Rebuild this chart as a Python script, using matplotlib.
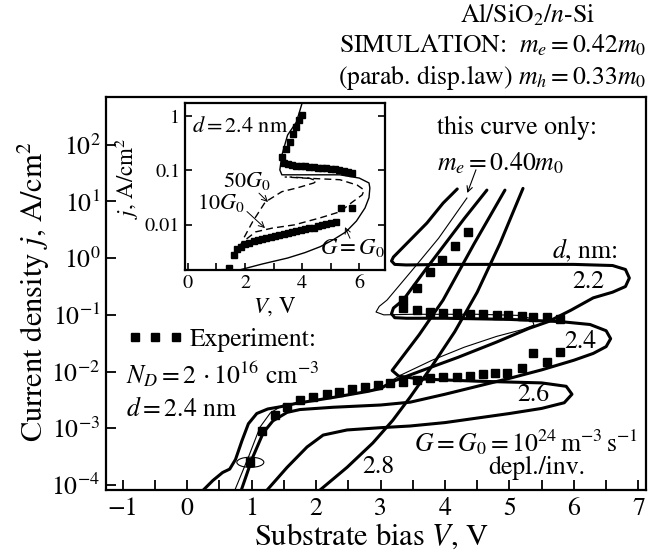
import numpy as np
import matplotlib
matplotlib.use('Agg')
import matplotlib.pyplot as plt
from matplotlib.lines import Line2D
from matplotlib.patches import Ellipse
from matplotlib.ticker import MultipleLocator, FixedLocator, NullLocator

plt.rcParams['font.family'] = 'STIXGeneral'
plt.rcParams['mathtext.fontset'] = 'stix'
plt.rcParams['axes.linewidth'] = 1.6

FS = 18.5     # text inside the main panel
FS_LAB = 22   # axis titles
FS_IN = 16.5  # inset text

# ---- main panel: simulated j(V), values are log10(j / A cm^-2) ----
v22 = [0.25, 0.40, 0.55, 0.66, 0.75, 0.85, 0.95, 1.08, 1.25, 1.45, 1.70, 2.30, 2.80, 3.00,
       3.20, 3.60, 4.20, 4.80, 5.30, 5.60, 5.95, 6.30, 6.60, 6.80, 6.86, 6.80, 6.60, 6.00,
       5.00, 4.00, 3.40, 3.22, 3.17, 3.20, 3.46, 3.72, 3.97, 4.19]
l22 = [-4.09, -3.92, -3.78, -3.72, -3.55, -3.22, -2.92, -2.74, -2.66, -2.62, -2.56, -2.45, -2.35, -2.30,
       -2.17, -2.00, -1.75, -1.48, -1.24, -1.12, -0.92, -0.70, -0.60, -0.50, -0.35, -0.20, -0.13, -0.11,
       -0.11, -0.11, -0.12, -0.11, -0.05, 0.02, 0.32, 0.62, 0.97, 1.22]

v24 = [0.84, 1.01, 1.18, 1.33, 1.55, 1.75, 2.26, 3.00, 3.46, 4.00, 4.50, 5.00, 5.50, 6.00, 6.30,
       6.50, 6.57, 6.50, 6.25, 5.80, 5.00, 4.00, 3.40, 3.22, 3.17, 3.20, 3.35, 3.70, 4.00, 4.30, 4.65]
l24 = [-4.09, -3.53, -3.08, -2.87, -2.72, -2.67, -2.63, -2.59, -2.54, -2.40, -2.26, -2.12, -1.97, -1.80, -1.68,
       -1.56, -1.42, -1.28, -1.17, -1.12, -1.08, -1.06, -1.06, -1.05, -0.98, -0.88, -0.74, -0.20, 0.25, 0.70, 1.20]

# d = 2.4 nm with m_e = 0.40 m_0 (thin curve)
v40 = [0.74, 0.95, 1.13, 1.29, 1.49, 2.00, 2.80, 3.05, 3.30, 3.80, 4.30, 4.80, 5.20, 5.38, 5.35,
       5.15, 4.50, 3.50, 3.05, 2.93, 2.98, 3.10, 3.50, 3.90, 4.34]
l40 = [-4.09, -3.51, -2.98, -2.73, -2.59, -2.50, -2.35, -2.25, -2.07, -1.80, -1.57, -1.38, -1.26, -1.18, -1.07,
       -1.01, -0.99, -0.99, -1.00, -0.95, -0.85, -0.74, -0.20, 0.35, 1.06]

v26 = [1.24, 1.55, 1.86, 2.11, 2.48, 3.00, 3.46, 4.00, 4.50, 5.00, 5.50, 5.85, 5.97, 5.88, 5.50,
       4.50, 3.60, 3.28, 3.18, 3.30, 3.60, 3.97, 4.45, 4.93]
l26 = [-4.09, -3.69, -3.33, -3.12, -3.03, -2.99, -2.96, -2.90, -2.82, -2.74, -2.65, -2.55, -2.40, -2.26, -2.20,
       -2.17, -2.13, -2.08, -1.98, -1.80, -1.35, -0.74, 0.25, 1.20]

v28 = [2.06, 2.48, 2.88, 3.19, 3.46, 3.80, 4.15, 4.50, 4.85, 5.21]
l28 = [-4.09, -3.69, -3.26, -2.86, -2.45, -1.90, -1.30, -0.60, 0.25, 1.23]

# experiment, d = 2.4 nm
v_exp = [0.98, 1.16, 1.36, 1.55, 1.75, 1.95, 2.17, 2.36, 2.56, 2.76, 2.96, 3.15, 3.35, 3.57, 3.77,
         3.97, 4.19, 4.39, 4.59, 4.78, 4.96, 5.19, 5.36, 5.58, 5.78,
         5.78, 5.58, 5.36, 5.19, 4.98, 4.81, 4.59, 4.39, 4.19, 3.97, 3.77, 3.57, 3.35,
         3.35, 3.57, 3.77, 3.95, 4.16, 4.36]
l_exp = [-3.60, -3.05, -2.77, -2.63, -2.50, -2.45, -2.40, -2.36, -2.31, -2.28, -2.24, -2.20, -2.19, -2.15, -2.12,
         -2.10, -2.10, -2.08, -2.05, -2.03, -2.03, -1.94, -1.68, -1.83, -1.66,
         -1.08, -1.04, -1.03, -1.02, -1.00, -1.00, -0.99, -0.98, -0.96, -0.96, -0.95, -0.92, -0.88,
         -0.74, -0.53, -0.25, -0.04, 0.21, 0.46]

# ---- inset ----
vi_exp = [1.45, 1.62, 1.72, 1.85, 2.00, 2.15, 2.30, 2.45, 2.60, 2.75, 2.90, 3.05, 3.20, 3.35, 3.50,
          3.65, 3.80, 3.95, 4.10, 4.25, 4.40, 4.55, 4.70, 4.85, 5.00, 5.19, 5.36, 5.76,
          5.76, 5.60, 5.45, 5.30, 5.15, 5.00, 4.85, 4.70, 4.55, 4.40, 4.25, 4.10, 3.95, 3.80,
          3.65, 3.50, 3.35, 3.29, 3.42, 3.56, 3.68, 3.80, 3.90, 4.00]
li_exp = [-2.79, -2.55, -2.45, -2.40, -2.36, -2.33, -2.30, -2.28, -2.26, -2.24, -2.22, -2.20, -2.18, -2.16, -2.15,
          -2.13, -2.11, -2.09, -2.08, -2.06, -2.05, -2.03, -2.01, -1.99, -1.97, -1.95, -1.69, -1.69,
          -1.05, -1.03, -1.01, -0.99, -0.98, -0.97, -0.96, -0.95, -0.95, -0.94, -0.93, -0.92, -0.91, -0.91,
          -0.90, -0.89, -0.87, -0.75, -0.60, -0.48, -0.33, -0.20, -0.08, 0.02]

vi_g1 = [1.80, 2.60, 3.49, 4.10, 4.64, 5.10, 5.53, 5.90, 6.20, 6.34, 6.37, 6.34, 6.00, 5.32,
         4.30, 3.29, 3.22, 3.29, 3.49, 3.80, 4.00]
li_g1 = [-2.83, -2.72, -2.61, -2.51, -2.40, -2.27, -2.13, -1.93, -1.69, -1.50, -1.32, -1.23, -1.14, -1.08,
         -1.08, -1.08, -0.99, -0.72, -0.35, -0.11, 0.24]

vi_g10 = [1.65, 1.93, 2.37, 2.95, 3.73, 4.64, 5.32, 5.76, 6.10, 6.17, 5.93, 5.32, 4.07, 3.39]
li_g10 = [-2.60, -2.31, -2.13, -2.06, -2.00, -1.87, -1.76, -1.58, -1.45, -1.36, -1.27, -1.17, -1.14, -1.12]

vi_g50 = [1.65, 1.95, 2.27, 2.71, 3.29, 3.83, 4.41, 4.50, 4.24, 3.56]
li_g50 = [-2.60, -2.25, -1.94, -1.58, -1.39, -1.32, -1.23, -1.19, -1.14, -1.12]

p10 = lambda a: 10.0 ** np.asarray(a)

fig = plt.figure(figsize=(6.5, 5.55), dpi=100)
ax = fig.add_axes([0.163, 0.117, 0.831, 0.708])

thick = dict(color='k', lw=2.2, solid_joinstyle='round', solid_capstyle='round')
ax.plot(v22, p10(l22), **thick)
ax.plot(v24, p10(l24), **thick)
ax.plot(v26, p10(l26), **thick)
ax.plot(v28, p10(l28), **thick)
ax.plot(v40, p10(l40), color='k', lw=0.8)
ax.plot(v_exp, p10(l_exp), ls='none', marker='s', ms=5.6, color='k')

ax.set_yscale('log')
ax.set_xlim(-1.26, 7.12)
ax.set_ylim(10 ** -4.09, 10 ** 2.84)
ax.xaxis.set_major_locator(MultipleLocator(1))
ax.xaxis.set_minor_locator(MultipleLocator(0.5))
ax.yaxis.set_major_locator(FixedLocator([1e-4, 1e-3, 1e-2, 1e-1, 1, 1e1, 1e2]))
ax.yaxis.set_minor_locator(NullLocator())
ax.tick_params(which='both', direction='in', length=7, width=1.3, labelsize=FS)
ax.tick_params(axis='x', pad=5)
ax.tick_params(axis='y', pad=4)

# ellipse marking the experimental point near 1 V
cx, cy = ax.transAxes.inverted().transform(ax.transData.transform((v_exp[0], 10 ** l_exp[0])))
ax.add_patch(Ellipse((cx, cy), 0.05, 0.026, transform=ax.transAxes, fill=False, lw=0.8))

ax.legend(handles=[Line2D([], [], ls='none', marker='s', ms=5.6, color='k')], labels=['Experiment:'],
          numpoints=3, loc='center left', bbox_to_anchor=(0.039, 0.382), frameon=False,
          handlelength=2.2, handletextpad=0.25, borderaxespad=0, borderpad=0, fontsize=FS)
ax.text(0.037, 0.293, r'$N_D = 2\,\cdot 10^{16}\ \mathrm{cm}^{-3}$', transform=ax.transAxes, fontsize=FS, va='center')
ax.text(0.037, 0.204, r'$d = 2.4\ \mathrm{nm}$', transform=ax.transAxes, fontsize=FS, va='center')

ax.text(0.613, 0.921, 'this curve only:', transform=ax.transAxes, fontsize=FS, va='center')
ax.text(0.613, 0.832, r'$m_e = 0.40m_0$', transform=ax.transAxes, fontsize=FS, va='center')
ax.annotate('', xy=(0.669, 0.756), xytext=(0.685, 0.815), xycoords='axes fraction',
            arrowprops=dict(arrowstyle='->', lw=0.8, color='k', shrinkA=0, shrinkB=0))
ax.text(0.887, 0.608, r'$d$, nm:', transform=ax.transAxes, fontsize=FS, ha='center', va='center')
ax.text(0.894, 0.529, '2.2', transform=ax.transAxes, fontsize=FS, ha='center', va='center')
ax.text(0.878, 0.377, '2.4', transform=ax.transAxes, fontsize=FS, ha='center', va='center')
ax.text(0.791, 0.242, '2.6', transform=ax.transAxes, fontsize=FS, ha='center', va='center')
ax.text(0.504, 0.059, '2.8', transform=ax.transAxes, fontsize=FS, ha='center', va='center')
ax.text(0.985, 0.120, r'$G = G_0 = 10^{24}\,\mathrm{m}^{-3}\,\mathrm{s}^{-1}$', transform=ax.transAxes,
        fontsize=FS, ha='right', va='center')
ax.text(0.798, 0.056, 'depl./inv.', transform=ax.transAxes, fontsize=FS, ha='center', va='center')

fig.text(0.052, 0.474, r'Current density $j$, A/cm$^2$', rotation=90, fontsize=FS_LAB,
         ha='center', va='center')
fig.text(0.572, 0.019, r'Substrate bias $V$, V', fontsize=FS_LAB, ha='center', va='baseline')

fig.text(0.812, 0.973, r'Al/SiO$_2$/$n$-Si', fontsize=FS, ha='center', va='center')
fig.text(0.994, 0.917, r'SIMULATION:  $m_e = 0.42m_0$', fontsize=FS, ha='right', va='center')
fig.text(0.994, 0.861, r'(parab. disp.law) $m_h = 0.33m_0$', fontsize=FS, ha='right', va='center')

# ---- inset axes ----
axi = fig.add_axes([0.2846, 0.5135, 0.3077, 0.3009])
axi.set_facecolor('white')
axi.plot(vi_g1, p10(li_g1), color='k', lw=1.0)
axi.plot(vi_g10, p10(li_g10), color='k', lw=1.0, ls=(0, (5, 3)))
axi.plot(vi_g50, p10(li_g50), color='k', lw=1.0, ls=(0, (5, 3)))
axi.plot(vi_exp, p10(li_exp), ls='none', marker='s', ms=3.8, color='k')
axi.set_yscale('log')
axi.set_xlim(-0.1, 6.9)
axi.set_ylim(10 ** -2.83, 10 ** 0.24)
axi.xaxis.set_major_locator(MultipleLocator(2))
axi.xaxis.set_minor_locator(MultipleLocator(1))
axi.yaxis.set_major_locator(FixedLocator([0.01, 0.1, 1]))
axi.yaxis.set_minor_locator(NullLocator())
axi.set_yticklabels(['0.01', '0.1', '1'])
axi.tick_params(which='both', direction='in', length=5, width=1.2, labelsize=14.5, right=True)
axi.text(0.035, 0.856, r'$d = 2.4\ \mathrm{nm}$', transform=axi.transAxes, fontsize=16, va='center')
axi.text(0.31, 0.535, r'$50G_0$', transform=axi.transAxes, fontsize=FS_IN - 0.5, ha='center', va='center')
axi.text(0.18, 0.40, r'$10G_0$', transform=axi.transAxes, fontsize=FS_IN - 0.5, ha='center', va='center')
axi.text(0.675, 0.132, r'$G = G_0$', transform=axi.transAxes, fontsize=FS_IN, va='center')
arr = dict(arrowstyle='->', lw=0.7, color='k', shrinkA=0, shrinkB=0)
axi.annotate('', xy=(0.415, 0.407), xytext=(0.37, 0.46), xycoords='axes fraction', arrowprops=arr)
axi.annotate('', xy=(0.40, 0.251), xytext=(0.31, 0.35), xycoords='axes fraction', arrowprops=arr)
axi.annotate('', xy=(0.80, 0.257), xytext=(0.825, 0.19), xycoords='axes fraction', arrowprops=arr)
axi.text(-0.29, 0.55, r'$j$, A/cm$^2$', transform=axi.transAxes, rotation=90, fontsize=FS_IN,
         ha='center', va='center')
axi.text(0.45, -0.22, r'$V$, V', transform=axi.transAxes, fontsize=FS_IN, ha='center', va='center')

fig.savefig('out.png', dpi=100)
